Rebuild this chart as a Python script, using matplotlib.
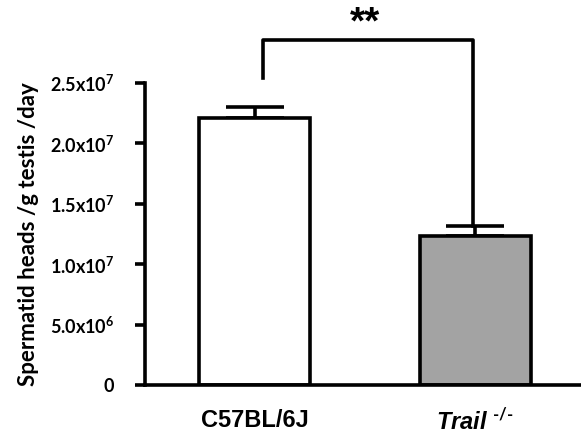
import numpy as np
import matplotlib.pyplot as plt

# data
groups = ['C57BL/6J', 'Trail']
means = [2.21e7, 1.235e7]
sems = [0.09e7, 0.08e7]
bar_colors = ['white', '#a3a3a3']
ytick_vals = [0, 5e6, 1e7, 1.5e7, 2e7, 2.5e7]
ytick_labels = ['0', r'5.0x10$^{6}$', r'1.0x10$^{7}$', r'1.5x10$^{7}$',
                r'2.0x10$^{7}$', r'2.5x10$^{7}$']

plt.rcParams['font.family'] = ['Liberation Sans', 'DejaVu Sans']
plt.rcParams['font.weight'] = 'bold'
plt.rcParams['mathtext.fontset'] = 'custom'
plt.rcParams['mathtext.rm'] = 'Lato:bold'
plt.rcParams['mathtext.it'] = 'Liberation Sans:bold:italic'
plt.rcParams['mathtext.bf'] = 'Lato:bold'

fig = plt.figure(figsize=(5.81, 4.36), dpi=100)
ax = fig.add_axes([145 / 581, 1 - 385 / 436, 1 - 145 / 581, (385 - 83) / 436])

x = np.arange(len(groups))
lw = 2.6
ax.bar(x, means, width=0.503, color=bar_colors, edgecolor='black',
       linewidth=lw, zorder=2)
ax.errorbar(x, means, yerr=[np.zeros(len(sems)), sems], fmt='none',
            ecolor='black', elinewidth=lw, capsize=21, capthick=lw, zorder=1)

ax.set_xlim(-0.497, 1.48)
ax.set_ylim(0, 2.5e7)
ax.set_yticks(ytick_vals)
ax.set_yticklabels(ytick_labels, fontsize=13, family='Lato', fontweight='bold')
ax.set_xticks(x)
ax.set_xticklabels(['C57BL/6J', r'$\mathit{Trail}^{\ \mathit{‐/‐}}$'], fontsize=17)
ax.tick_params(axis='x', length=0, pad=17)
ax.tick_params(axis='y', direction='out', length=7, width=lw, pad=15)
for s in ['top', 'right']:
    ax.spines[s].set_visible(False)
ax.spines['left'].set_linewidth(lw)
ax.spines['bottom'].set_linewidth(lw)

ax.set_ylabel('Spermatid heads /g testis /day', fontsize=16, family='Lato',
              fontweight='bold', labelpad=8)

# significance bracket
bx = [0.04, 0.04, 0.991, 0.991]
by = [2.54e7, 2.856e7, 2.856e7, means[1] + sems[1]]
ax.plot(bx, by, color='black', linewidth=lw, clip_on=False)
ax.text(0.5, 2.99e7, '**', ha='center', va='center', fontsize=28,
        fontweight='bold')

fig.savefig('out.png', dpi=100)
